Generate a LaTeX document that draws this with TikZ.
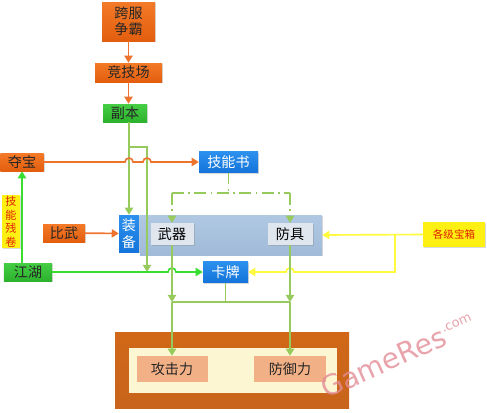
\documentclass[tikz,border=0pt]{standalone}
\usepackage{fontspec}
\newfontfamily\cjk{Noto Sans CJK SC}
\newfontfamily\markfont{DejaVu Sans}
\usepackage{tikz}
\usetikzlibrary{positioning,arrows.meta,shadows}

\definecolor{kforange}{RGB}{226,94,14}
\definecolor{kforangetop}{RGB}{244,122,40}
\definecolor{kfgreen}{RGB}{44,178,44}
\definecolor{kfgreentop}{RGB}{70,206,70}
\definecolor{kfblue}{RGB}{20,116,218}
\definecolor{kfbluetop}{RGB}{44,144,238}
\definecolor{kfline}{RGB}{238,116,46}
\definecolor{kfleaf}{RGB}{150,202,92}
\definecolor{kflime}{RGB}{56,222,48}
\definecolor{kfyellow}{RGB}{255,240,20}
\definecolor{kfyline}{RGB}{255,250,60}
\definecolor{kfgrey}{RGB}{224,230,238}
\definecolor{kfsteel}{RGB}{160,186,216}
\definecolor{kfsteeltop}{RGB}{176,200,226}
\definecolor{kfrust}{RGB}{200,100,28}
\definecolor{kfcream}{RGB}{252,247,210}
\definecolor{kfsalmon}{RGB}{242,176,134}
\definecolor{kfred}{RGB}{222,34,0}
\definecolor{kfpink}{RGB}{226,140,150}

\begin{document}
\begin{tikzpicture}[x=0.03cm, y=-0.03cm,
  every node/.style={font=\cjk\fontsize{12}{14}\selectfont, inner sep=0pt},
  box/.style={drop shadow={shadow xshift=1.2pt, shadow yshift=-1.2pt, opacity=0.3}},
  orangebox/.style={box, top color=kforangetop, bottom color=kforange, text=black!85},
  greenbox/.style={box, top color=kfgreentop, bottom color=kfgreen, text=black!85},
  bluebox/.style={box, top color=kfbluetop, bottom color=kfblue, text=white},
  yellowbox/.style={box, fill=kfyellow, text=kfred},
  greybox/.style={box, fill=kfgrey, text=black},
  steelbox/.style={box, top color=kfsteeltop, bottom color=kfsteel},
  salmonbox/.style={fill=kfsalmon, text=black!85},
  orangeline/.style={draw=kfline, line width=1.4pt},
  leafline/.style={draw=kfleaf, line width=1.4pt},
  limeline/.style={draw=kflime, line width=1.4pt},
  yline/.style={draw=kfyline, line width=1.4pt},
  dashdot/.style={leafline, dash pattern=on 10pt off 4pt on 1.2pt off 4pt},
  arr/.style={-{Triangle[width=7pt, length=6pt]}}
]
\useasboundingbox (0,0) rectangle (487,412);

% left column
\node[orangebox, minimum width=1.59cm, minimum height=1.17cm, align=center] (kuafu) at (128.5,21.5) {跨服\\争霸};
\node[orangebox, minimum width=2.01cm, minimum height=0.57cm] (jingji) at (128.5,72.5) {竞技场};
\node[greenbox, minimum width=1.32cm, minimum height=0.54cm] (fuben) at (125,113) {副本};
\node[orangebox, minimum width=1.29cm, minimum height=0.54cm] (duobao) at (22,162) {夺宝};
\node[bluebox, minimum width=1.77cm, minimum height=0.63cm] (jinengshu) at (228.5,162) {技能书};

% equipment
\node[steelbox, minimum width=5.46cm, minimum height=1.2cm] (equip) at (231,235) {};
\node[bluebox, minimum width=0.6cm, minimum height=1.11cm, align=center,
  font=\cjk\fontsize{12}{15}\selectfont] (zhuangbei) at (129,233.5) {装\\备};
\node[greybox, minimum width=1.29cm, minimum height=0.66cm] (wuqi) at (172,234) {武器};
\node[greybox, minimum width=1.35cm, minimum height=0.66cm] (fangju) at (290,234) {防具};
\node[orangebox, minimum width=1.26cm, minimum height=0.54cm] (biwu) at (64,233) {比武};
\node[yellowbox, minimum width=0.54cm, minimum height=1.59cm, align=center,
  font=\cjk\fontsize{9.5}{11.5}\selectfont] (canjuan) at (11,221.5) {技\\能\\残\\卷};
\node[greenbox, minimum width=1.44cm, minimum height=0.54cm] (jianghu) at (28,272) {江湖};
\node[bluebox, minimum width=1.35cm, minimum height=0.63cm] (kapai) at (225.5,272) {卡牌};
\node[yellowbox, minimum width=1.86cm, minimum height=0.75cm,
  font=\cjk\fontsize{9}{10}\selectfont] (baoxiang) at (454,234.5) {各级宝箱};

% result
\shade[top color=kfrust!85!orange, bottom color=kfrust] (115,332) rectangle (349,408);
\fill[kfcream] (129,348) rectangle (337,393);
\node[salmonbox, minimum width=2.13cm, minimum height=0.78cm] (gongji) at (172,369) {攻击力};
\node[salmonbox, minimum width=2.16cm, minimum height=0.78cm] (fangyu) at (290,369) {防御力};

\coordinate (split) at (129,147);
\coordinate (branch) at (147,147);
\coordinate (merge) at (147,272);
\coordinate (dl) at (172,193);
\coordinate (dr) at (290,193);
\coordinate (yj) at (395,235);
\coordinate (jl) at (172,302);
\coordinate (jr) at (290,302);

% orange flow
\draw
  (kuafu) edge[orangeline, arr] (jingji)
  (jingji.south) edge[orangeline, arr] (jingji.south |- fuben.north)
  (biwu) edge[orangeline, arr] (zhuangbei)
;

% green flow
\draw[leafline] (fuben.south -| split) -- (split);
\draw[leafline, arr] (split) -- (zhuangbei.north);
\draw[leafline, arr] (split) -- (branch) -- (merge);
\draw[orangeline, arr] (duobao.east) -- (125,162) arc[start angle=180, end angle=0, radius=0.12cm]
  -- (143,162) arc[start angle=180, end angle=0, radius=0.12cm] -- (jinengshu.west);

% skill book
\draw[dashdot] (jinengshu.south) -- (jinengshu.south |- dl);
\draw[dashdot] (dl) -- (dr);
\draw[dashdot, arr] (dl) -- (wuqi.north);
\draw[dashdot, arr] (dr) -- (fangju.north);

% jianghu
\draw[limeline, arr] (jianghu.north -| duobao.south) -- (duobao.south);
\draw[limeline, arr] (jianghu.east) -- (168,272) arc[start angle=180, end angle=0, radius=0.12cm] -- (kapai.west);

% boxes
\draw[yline, arr] (baoxiang.west) -- (equip.east);
\draw[yline, arr] (yj) -- (yj |- kapai) -- (294,272) arc[start angle=0, end angle=180, radius=0.12cm] -- (kapai.east);

% to power
\draw
  (wuqi.south) edge[leafline, arr] (jl)
  (fangju.south) edge[leafline, arr] (jr)
  (jl) edge[leafline] (jr)
  (kapai.south) edge[leafline] (kapai.south |- jl)
  (jl) edge[leafline, arr] (gongji.north)
  (jr) edge[leafline, arr] (fangyu.north)
;

\node[rotate=24, anchor=base west, text=kfpink, text opacity=0.8,
  font=\markfont\fontsize{24}{24}\selectfont] (mark) at (326,399)
  {GameRes\raisebox{0.45em}{\fontsize{11}{11}\selectfont.com}};
\end{tikzpicture}
\end{document}
